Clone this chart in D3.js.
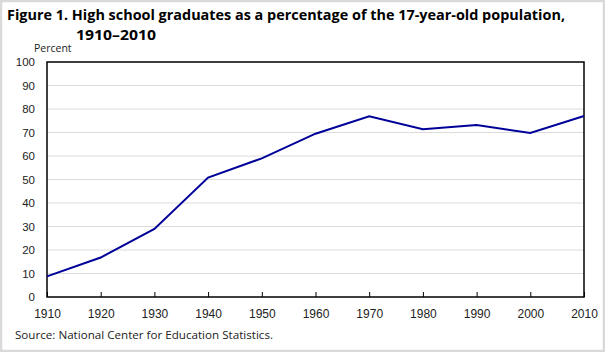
<!DOCTYPE html>
<html>
<head>
<meta charset="utf-8">
<title>High school graduates</title>
<script src="https://d3js.org/d3.v7.min.js"></script>
<style>
  body { margin: 0; background: #fff; }
  svg { display: block; font-family: "Open Sans", "Noto Sans", sans-serif; }
  .title { font-weight: bold; font-size: 14px; fill: #000; }
  .tick text { fill: #222; }
</style>
</head>
<body>
<svg id="chart" width="605" height="352"></svg>
<script>
// data
const years = [1910, 1920, 1930, 1940, 1950, 1960, 1970, 1980, 1990, 2000, 2010];
const percent = [8.8, 16.8, 29.0, 50.8, 59.0, 69.5, 76.9, 71.4, 73.2, 69.8, 77.0];
const yTicks = [0, 10, 20, 30, 40, 50, 60, 70, 80, 90, 100];

const svg = d3.select("#chart");
const W = 605, H = 352;
const m = { left: 47, right: 21, top: 62, bottom: 55 };

// gray frame round the picture
svg.append("rect")
    .attr("x", 1).attr("y", 1)
    .attr("width", W - 2).attr("height", H - 2)
    .attr("fill", "#fff")
    .attr("stroke", "#d9d9d9")
    .attr("stroke-width", 2.5);

const x = d3.scaleLinear().domain([1910, 2010]).range([m.left, W - m.right]);
const y = d3.scaleLinear().domain([0, 100]).range([H - m.bottom, m.top]);

// title
svg.append("text").attr("class", "title")
    .attr("x", 7).attr("y", 20)
    .attr("textLength", 558).attr("lengthAdjust", "spacingAndGlyphs")
    .text("Figure 1. High school graduates as a percentage of the 17-year-old population,");
svg.append("text").attr("class", "title")
    .attr("x", 76).attr("y", 40)
    .attr("textLength", 80).attr("lengthAdjust", "spacingAndGlyphs")
    .text("1910–2010");

svg.append("text")
    .attr("x", 34).attr("y", 52)
    .attr("font-size", 10.5).attr("fill", "#222")
    .text("Percent");

// gridlines
svg.append("g")
    .selectAll("line")
    .data(yTicks.filter(d => d > 0 && d < 100))
    .join("line")
    .attr("x1", x(1910)).attr("x2", x(2010))
    .attr("y1", d => y(d)).attr("y2", d => y(d))
    .attr("stroke", "#dcdcdc")
    .attr("stroke-width", 1);

// y axis labels
const yAxis = svg.append("g")
    .attr("transform", `translate(${m.left},0)`)
    .call(d3.axisLeft(y).tickValues(yTicks).tickSize(0).tickPadding(12));
yAxis.select(".domain").remove();
yAxis.selectAll(".tick text").attr("font-size", 11.5);

// x axis, ticks inside
const xAxis = svg.append("g")
    .attr("transform", `translate(0,${H - m.bottom})`)
    .call(d3.axisBottom(x).tickValues(years).tickFormat(d3.format("d"))
        .tickSizeInner(-5).tickSizeOuter(0).tickPadding(12));
xAxis.select(".domain").remove();
xAxis.selectAll(".tick line").attr("stroke", "#000");
xAxis.selectAll(".tick text").attr("font-size", 12);

// frame of the plot
svg.append("rect")
    .attr("x", x(1910)).attr("y", y(100))
    .attr("width", x(2010) - x(1910)).attr("height", y(0) - y(100))
    .attr("fill", "none")
    .attr("stroke", "#000")
    .attr("stroke-width", 1.5);

// line
const line = d3.line()
    .x((d, i) => x(years[i]))
    .y(d => y(d));

svg.append("path")
    .datum(percent)
    .attr("d", line)
    .attr("fill", "none")
    .attr("stroke", "#000099")
    .attr("stroke-width", 2);

// source note
svg.append("text")
    .attr("x", 15).attr("y", 339)
    .attr("font-size", 11.5).attr("fill", "#222")
    .attr("textLength", 258).attr("lengthAdjust", "spacingAndGlyphs")
    .text("Source:  National Center for Education  Statistics.");
</script>
</body>
</html>
